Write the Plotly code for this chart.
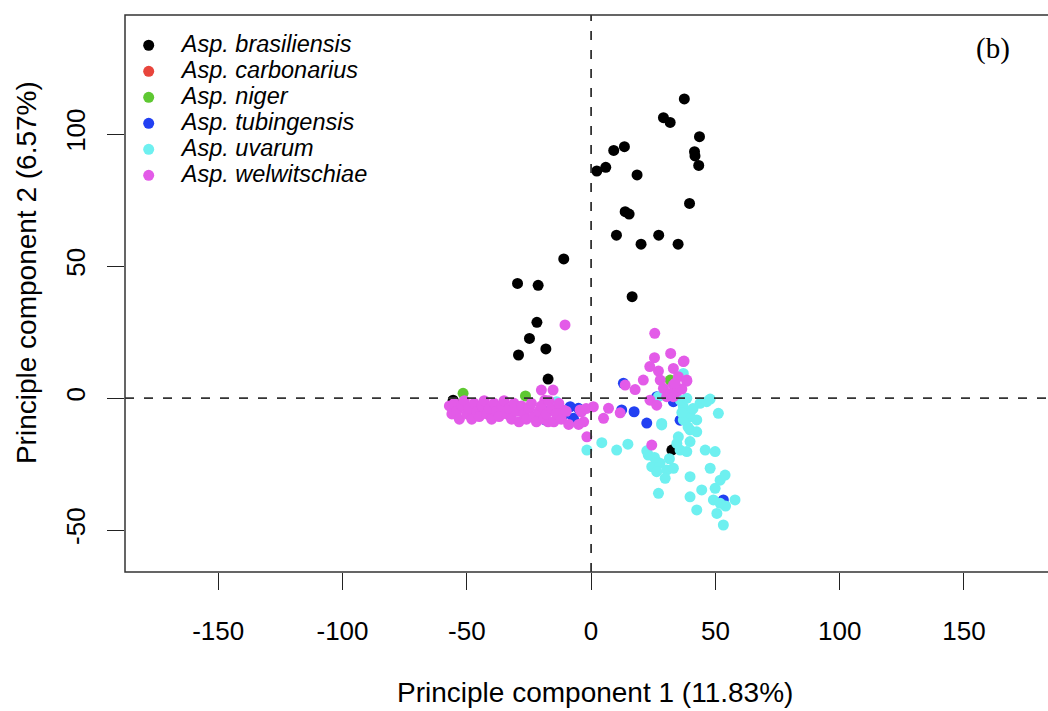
import plotly.graph_objects as go

# ---------------- data ----------------
species = ["Asp. brasiliensis", "Asp. carbonarius", "Asp. niger",
           "Asp. tubingensis", "Asp. uvarum", "Asp. welwitschiae"]
colors = ["#000000", "#E8453C", "#5EC832", "#2240F2", "#6EF0F0", "#E35BE8"]

bras_x = [37.5, 29.1, 31.8, 43.6, 41.6, 41.8, 43.3, 9.1, 13.4, 2.3, 5.9, 18.5,
          39.6, 13.7, 15.3, 10.2, 27.2, 20.1, 35.0, -11.0, -29.6, -21.3, 16.5,
          -21.8, -24.8, -18.2, -29.2, -17.3, -55.5, 32.5]
bras_y = [113.3, 106.2, 104.4, 99.0, 93.3, 91.7, 88.1, 93.8, 95.2, 86.0, 87.4, 84.5,
          73.7, 70.6, 69.7, 61.7, 61.7, 58.3, 58.3, 52.7, 43.4, 42.7, 38.4,
          28.7, 22.6, 18.6, 16.3, 7.2, -0.8, -19.7]

carb_x = [-44.0]
carb_y = [-4.0]

niger_x = [-51.5, -26.4, 31.8]
niger_y = [1.8, 0.8, 6.8]

tub_x = [-8.4, -5.1, -7.1, -11.1, -18.5, -13.5, 13.0, 12.3, 17.3, 22.4, 35.8,
         26.4, 33.1, 53.2, -16.0]
tub_y = [-3.3, -3.9, -7.7, -6.4, -8.3, -7.0, 5.6, -4.5, -5.2, -9.5, -8.4,
         0.5, -1.4, -38.6, -4.0]

uva_x = [-13.9, -1.7, 4.3, 10.3, 14.8, 28.4, 51.2, 23.0, 26.4, 24.4, 27.7, 26.4,
         30.4, 33.1, 29.8, 27.1, 34.5, 35.8, 38.5, 39.8, 35.1, 39.8, 39.8, 42.5,
         44.5, 45.9, 49.9, 47.9, 49.9, 51.9, 53.9, 49.2, 50.6, 53.2, 51.9, 57.9,
         54.1, 39.8, 42.5, 37.1, 39.8, 42.5, 43.8, 46.5, 37.1, 35.8, 22.4, 38.5,
         47.9, 39.8, 39.0, 37.1, 27.1, 28.4, 41.0, 36.5, 25.5, 31.5]
uva_y = [-1.4, -19.7, -16.9, -19.7, -17.5, -10.2, -5.8, -21.6, -24.1, -26.0, -24.7, -27.9,
         -27.3, -26.6, -30.4, -36.1, -17.2, -19.7, -20.3, -16.5, -14.7, -29.8, -37.4, -42.4,
         -34.8, -19.7, -20.3, -26.6, -34.2, -31.1, -29.2, -38.6, -43.7, -48.1, -39.9, -38.6,
         -40.9, -12.1, -12.8, -3.3, -7.1, -8.3, -2.0, -1.4, -8.3, -0.8, -20.0, -0.1,
         -0.4, -5.8, -11.0, 9.3, 0.5, -9.6, -4.0, -5.5, -22.5, -23.0]

wel_x = [-10.5, 25.6, 32.0, 25.5, 37.4, 23.6, 27.1, 33.1, 21.0, 27.8, 35.1, 38.5,
         17.7, 13.7, 29.1, 33.1, 36.5, 30.4, 23.7, 26.4, 31.8, 34.5, 0.9, 7.0,
         5.0, 11.7, -11.1, -4.4, 24.4, -1.7, 37.1, 33.8, 33.1, 38.5, -20.0, -15.3,
         -18.6, -21.3, -17.3, -11.9, -3.9,
         -57, -56, -55, -54, -53, -52, -51, -50, -49, -48, -47, -46, -45, -44,
         -43, -42, -41, -40, -39, -38, -37, -36, -35, -34, -33, -32, -31, -30,
         -29, -28, -27, -26, -25, -24, -23, -22, -21, -20, -19, -18, -17, -16,
         -15, -14, -13, -12, -10, -9, -5, -3, -2]
wel_y = [27.7, 24.5, 16.9, 15.3, 14.0, 11.9, 10.2, 11.2, 6.8, 6.8, 8.1, 6.4,
         3.2, 4.9, 3.7, 4.9, 3.4, 0.5, -0.8, -2.7, 1.5, 2.4, -3.3, -3.9,
         -7.7, -5.6, -4.5, -4.5, -17.8, -14.7, 13.8, 5.6, 0.5, 6.8, 3.0, 3.0,
         -0.8, -8.3, -9.0, -4.5, -5.2,
         -3, -6, -2, -5, -8, -3, -1, -6, -4, -8, -2, -5, -7, -3,
         -1, -6, -4, -8, -2, -5, -7, -3, -1, -6, -4, -8, -2, -5,
         -9, -3, -6, -8, -4, -2, -7, -9, -5, -3, -8, -6, -1, -4,
         -9, -6, -2, -8, -5, -10, -10, -9, -4]

xticks = [-150, -100, -50, 0, 50, 100, 150]
xticklabels = ["-150", "-100", "-50", "0", "50", "100", "150"]
yticks = [-50, 0, 50, 100]
yticklabels = ["-50", "0", "50", "100"]
x_title = "Principle component 1 (11.83%)"
y_title = "Principle component 2 (6.57%)"
panel_label = "(b)"

series = [(bras_x, bras_y), (carb_x, carb_y), (niger_x, niger_y),
          (tub_x, tub_y), (uva_x, uva_y), (wel_x, wel_y)]

# ---------------- figure ----------------
FONT = "Liberation Sans, Arial, sans-serif"
fig = go.Figure()
for name, (xs, ys), col in zip(species, series, colors):
    fig.add_trace(go.Scatter(
        x=xs, y=ys, mode="markers",
        name='<span style="font-size:23.5px">&nbsp;&nbsp;<i>' + name + '</i></span>',
        marker=dict(color=col, size=11, line=dict(width=0)),
    ))

fig.update_layout(
    width=1048, height=711,
    margin=dict(l=125, r=0, t=15, b=139),
    paper_bgcolor="white", plot_bgcolor="white",
    font=dict(family=FONT, color="black"),
    showlegend=True,
    legend=dict(x=0.004, y=0.978, xanchor="left", yanchor="top",
                bgcolor="rgba(0,0,0,0)", borderwidth=0,
                font=dict(size=17.7, family=FONT, color="black"),
                itemsizing="trace"),
    xaxis=dict(range=[-187.5, 183.8], tickvals=xticks, ticktext=xticklabels,
               ticks="outside", ticklen=17, tickwidth=1.4, tickcolor="#222",
               showgrid=False, zeroline=False, showline=False,
               tickfont=dict(size=26, family=FONT, color="black"),
               ticklabelstandoff=19),
    yaxis=dict(range=[-65.9, 145.1], tickvals=yticks, ticktext=yticklabels,
               ticks="outside", ticklen=17, tickwidth=1.4, tickcolor="#222",
               tickangle=-90,
               showgrid=False, zeroline=False, showline=False,
               tickfont=dict(size=26, family=FONT, color="black"),
               ticklabelstandoff=12),
    shapes=[
        dict(type="rect", xref="paper", yref="paper", x0=0, x1=1.05, y0=0, y1=1,
             line=dict(color="#333", width=1.5), layer="above"),
        dict(type="line", xref="x", yref="paper", x0=0, x1=0, y0=0, y1=1,
             line=dict(color="#333", width=1.8, dash="9px,10px")),
        dict(type="line", xref="paper", yref="y", x0=0, x1=1, y0=0, y1=0,
             line=dict(color="#333", width=1.8, dash="9px,10px")),
    ],
    annotations=[
        dict(text=x_title, xref="paper", yref="paper", x=0.509, y=-0.217,
             xanchor="center", yanchor="middle", showarrow=False,
             font=dict(size=28, family=FONT, color="black")),
        dict(text=y_title, xref="paper", yref="paper", x=-0.106, y=0.537,
             xanchor="center", yanchor="middle", showarrow=False, textangle=-90,
             font=dict(size=28, family=FONT, color="black")),
        dict(text=panel_label, xref="paper", yref="paper", x=0.940, y=0.939,
             xanchor="center", yanchor="middle", showarrow=False,
             font=dict(size=29, family="Liberation Serif, Times New Roman, serif",
                       color="black")),
    ],
)

fig.write_html("out.html")
